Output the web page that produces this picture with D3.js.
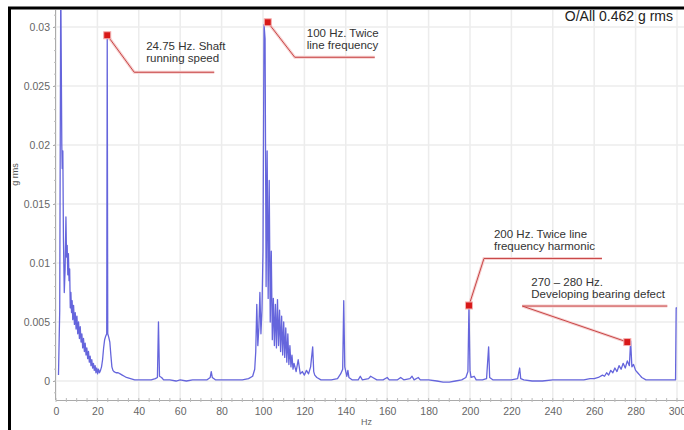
<!DOCTYPE html>
<html>
<head>
<meta charset="utf-8">
<script src="https://cdn.jsdelivr.net/npm/d3@7"></script>
<style>
body{margin:0;background:#fff;}
text{font-family:"Liberation Sans",Arial,sans-serif;}
</style>
</head>
<body>
<svg id="chart" width="684" height="430"></svg>
<script>
/* 数据 */
// 频率 (Hz)
var FREQ=[1.2,1.8,2.3,2.8,3.0,3.3,3.6,4.0,4.4,4.8,5.1,5.4,5.7,6.0,6.3,6.6,6.9,7.2,7.5,7.8,8.1,8.5,8.9,9.3,9.7,10.1,10.5,10.9,11.3,11.7,12.1,12.5,12.9,13.3,13.7,14.1,14.5,14.9,15.3,15.7,16.1,16.5,16.9,17.3,17.7,18.1,18.5,18.9,19.3,19.7,20.1,20.5,21,21.5,22,22.5,23,23.5,24,24.5,24.75,25,25.5,26,26.5,27,27.5,28,29,30,31,32,33,34,36,38,40,43,46,48,49,49.5,50,51,52,55,58,60,63,66,70,73,74.5,75,75.5,77,80,85,90,93,95,96,96.5,97,97.5,98,98.5,99,99.5,100,100.5,101,101.5,102,102.5,103,103.5,104,104.5,105,105.5,106,106.5,107,107.5,108,108.5,109,109.5,110,110.5,111,111.5,112,112.5,113,113.5,114,114.5,115,116,117,118,119,120,121,122,123,124,124.5,125,126,128,130,133,136,137.5,138.5,139,139.5,140.5,141,141.5,143,146,147,148,151,152,153,155,158,160,161,165,166.5,168,171,172,173,175,176,180,184,187,190,193,196,198,199,199.5,200,200.5,202,203,206,208,209,209.5,211,215,220,223,224,224.5,226,230,235,240,245,250,255,258,260,262,264,265,266,267,268,269,270,271,272,273,274,275,276,277,277.6,278.2,279,280,281,282,283,285,290,295,298,299.3,299.6,300];
// 幅值 (g rms)
var AMP=[0.0005,0.006,0.034,0.020,0.018,0.0195,0.012,0.0075,0.0095,0.0139,0.0105,0.0115,0.009,0.0108,0.0085,0.0095,0.0062,0.0075,0.0058,0.0068,0.0052,0.0064,0.0048,0.0058,0.0044,0.0055,0.0040,0.0050,0.0036,0.0046,0.0033,0.0040,0.0028,0.0036,0.0025,0.0032,0.0022,0.0028,0.0019,0.0025,0.0016,0.0021,0.0013,0.0018,0.0011,0.0015,0.0009,0.0013,0.0007,0.0011,0.0006,0.0010,0.0007,0.0009,0.0012,0.0018,0.0028,0.0035,0.0038,0.0040,0.0293,0.0040,0.0037,0.0033,0.0022,0.0012,0.0009,0.0008,0.0007,0.0007,0.0006,0.0005,0.0004,0.0003,0.0002,0.0001,0.0001,0.0001,0.0001,0.0002,0.0003,0.0050,0.0004,0.0003,0.0001,0.0001,0.0000,0.0001,0.0000,0.0001,0.0001,0.0001,0.0003,0.0008,0.0003,0.0001,0.0001,0.0001,0.0001,0.0002,0.0004,0.0010,0.0025,0.0065,0.0030,0.0045,0.0075,0.0040,0.0060,0.0110,0.0302,0.0290,0.0080,0.0195,0.0070,0.0170,0.0050,0.0110,0.0035,0.0070,0.0030,0.0065,0.0028,0.0069,0.0030,0.0060,0.0025,0.0055,0.0022,0.0050,0.0020,0.0045,0.0016,0.0040,0.0014,0.0030,0.0012,0.0022,0.0010,0.0015,0.0008,0.0018,0.0006,0.0008,0.0005,0.0009,0.0006,0.0012,0.0029,0.0008,0.0005,0.0003,0.0001,0.0001,0.0001,0.0002,0.0006,0.0010,0.0068,0.0012,0.0004,0.0009,0.0003,0.0001,0.0001,0.0004,0.0001,0.0002,0.0004,0.0003,0.0001,0.0001,0.0003,0.0001,0.0001,0.0003,0.0001,0.0002,0.0004,0.0001,0.0003,0.0001,0.0001,0.0000,-0.0001,-0.0001,0.0000,0.0001,0.0003,0.0008,0.0064,0.0009,0.0003,0.0004,0.0001,0.0001,0.0002,0.0029,0.0003,0.0001,0.0001,0.0001,0.0002,0.0011,0.0002,0.0001,0.0000,0.0000,0.0001,0.0001,0.0001,0.0001,0.0002,0.0002,0.0003,0.0005,0.0004,0.0007,0.0005,0.0009,0.0007,0.0011,0.0008,0.0013,0.0010,0.0015,0.0011,0.0017,0.0013,0.0034,0.0012,0.0014,0.0009,0.0007,0.0005,0.0003,0.0001,0.0001,0.0001,0.0001,0.0001,0.0062,0.0062];
// 坐标轴刻度
var X_TICKS=[0,20,40,60,80,100,120,140,160,180,200,220,240,260,280,300];
var Y_TICKS=[0,0.005,0.01,0.015,0.02,0.025,0.03];
var Y_TICK_LABELS=["0","0.005","0.01","0.015","0.02","0.025","0.03"];
// 标注
var ANNO_HZ=[24.75,102.3,199.5,276];
var ANNO_VAL=[0.0293,0.0304,0.0064,0.0033];
var ANNO_TEXT=[["24.75 Hz. Shaft","running speed"],["100 Hz. Twice","line frequency"],["200 Hz. Twice line","frequency harmonic"],["270 \u2013 280 Hz.","Developing bearing defect"]];
var OVERALL="O/All 0.462 g rms";

/* 布局 */
var LEFT=56, RIGHT=677, TOP=10, BOTTOM=400;
var svg=d3.select("#chart");
var x=d3.scaleLinear().domain([0,300]).range([LEFT,RIGHT]);
var y=d3.scaleLinear().domain([-0.00161,0.03144]).range([BOTTOM,TOP]);

// 网格
svg.selectAll(".vgrid").data(X_TICKS).enter().append("line")
	.attr("class","vgrid")
	.attr("x1",function(d){return x(d);})
	.attr("x2",function(d){return x(d);})
	.attr("y1",TOP)
	.attr("y2",BOTTOM)
	.style("stroke","#ececec")
	.style("stroke-width","1.5px");
svg.selectAll(".hgrid").data(Y_TICKS).enter().append("line")
	.attr("class","hgrid")
	.attr("x1",LEFT)
	.attr("x2",684)
	.attr("y1",function(d){return y(d);})
	.attr("y2",function(d){return y(d);})
	.style("stroke","#ececec")
	.style("stroke-width","1.5px");

// 坐标轴
var xAxis=d3.axisBottom(x).tickValues(X_TICKS).tickSize(0).tickPadding(8);
var gx=svg.append("g").attr("transform","translate(0,"+BOTTOM+")").call(xAxis);
gx.select(".domain").attr("d","M"+LEFT+",0.5H684").style("stroke","#aaa");
gx.selectAll("text").style("font-size","10.5px").style("fill","#666").attr("font-family",null);
var xMinor=d3.range(0,301,5);
gx.selectAll(".minor").data(xMinor).enter().append("line")
	.attr("class","minor")
	.attr("x1",function(d){return x(d);})
	.attr("x2",function(d){return x(d);})
	.attr("y1",-2).attr("y2",2)
	.style("stroke","#bbb");

var yAxis=d3.axisLeft(y).tickValues(Y_TICKS).tickSize(3).tickPadding(3)
	.tickFormat(function(d,i){return Y_TICK_LABELS[i];});
var gy=svg.append("g").attr("transform","translate("+LEFT+",0)").call(yAxis);
gy.select(".domain").attr("d","M-0.5,"+TOP+"V"+BOTTOM).style("stroke","#aaa");
gy.selectAll(".tick line").style("stroke","#aaa");
gy.selectAll("text").style("font-size","10.5px").style("fill","#666").attr("font-family",null);
var yMinor=d3.range(-0.001,0.0315,0.001);
gy.selectAll(".minor").data(yMinor).enter().append("line")
	.attr("class","minor")
	.attr("x1",-2).attr("x2",0)
	.attr("y1",function(d){return y(d);})
	.attr("y2",function(d){return y(d);})
	.style("stroke","#bbb");

// 轴标题
svg.append("text").text("Hz")
	.attr("x",x(150)).attr("y",425)
	.attr("text-anchor","middle")
	.style("font-size","9px").style("fill","#666");
svg.append("text").text("g rms")
	.attr("transform","translate(18,"+(y(0.0175))+") rotate(-90)")
	.attr("text-anchor","middle")
	.style("font-size","9px").style("fill","#555");

// 频谱线
svg.append("clipPath").attr("id","plotClip").append("rect")
	.attr("x",LEFT).attr("y",TOP).attr("width",684-LEFT).attr("height",BOTTOM-TOP);
var line=d3.line()
	.x(function(d,i){return x(FREQ[i]);})
	.y(function(d){return y(d);});
svg.append("path")
	.datum(AMP)
	.attr("clip-path","url(#plotClip)")
	.attr("d",line)
	.style("fill","none")
	.style("stroke","#6565dc")
	.style("stroke-width","1.3px")
	.style("stroke-linejoin","round");

// 标注 (引线拐点偏移、水平段长度、文字偏移)
var ANNO_LAYOUT=[
	{elbow:[27,37],len:80,tx:39,ty:15},
	{elbow:[27,35],len:80,tx:39,ty:15},
	{elbow:[15,-47],len:118,tx:25,ty:-67},
	{elbow:[-105,-36],len:145,tx:-96,ty:-56}
];
for(var i=0;i<ANNO_HZ.length;i++){
	var px=x(ANNO_HZ[i]), py=y(ANNO_VAL[i]), L=ANNO_LAYOUT[i];
	var ex=px+L.elbow[0], ey=py+L.elbow[1];
	var d="M"+px+","+py+"L"+ex+","+ey+"H"+(ex+L.len);
	svg.append("path").attr("d",d)
		.style("fill","none").style("stroke","#f6d0d0").style("stroke-width","3px");
	svg.append("path").attr("d",d)
		.style("fill","none").style("stroke","#c84646").style("stroke-width","1px");
	svg.append("rect")
		.attr("x",px-3.5).attr("y",py-3.5).attr("width",7).attr("height",7)
		.style("fill","#d81818").style("stroke","#f3b0b0").style("stroke-width","1px");
	for(var j=0;j<ANNO_TEXT[i].length;j++){
		svg.append("text").text(ANNO_TEXT[i][j])
			.attr("x",px+L.tx).attr("y",py+L.ty+j*12)
			.style("font-size","11.5px").style("fill","#333");
	}
}

// 总值
svg.append("text").text(OVERALL)
	.attr("x",673).attr("y",21)
	.attr("text-anchor","end")
	.style("font-size","14px").style("fill","#222");

// 外框
svg.append("rect")
	.attr("x",9.5).attr("y",8)
	.attr("width",800).attr("height",600)
	.style("fill","none").style("stroke","#000").style("stroke-width","3px");
</script>
</body>
</html>
